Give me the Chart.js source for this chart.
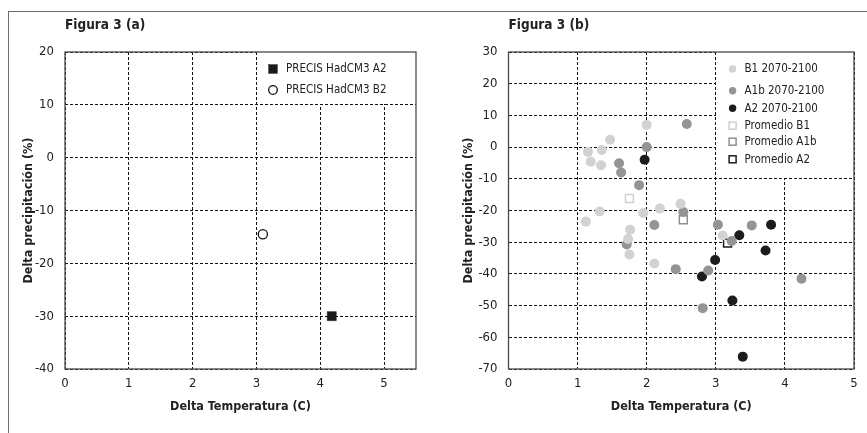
<!DOCTYPE html>
<html><head><meta charset="utf-8">
<script src="https://cdn.jsdelivr.net/npm/chart.js@4"></script>
<style>
html,body{margin:0;padding:0;background:#fff;}
#wrap{position:relative;width:867px;height:433px;overflow:hidden;background:#fff;}
#frame{position:absolute;left:8px;top:11px;width:900px;height:440px;border-top:1px solid #6e6e6e;border-left:1px solid #6e6e6e;}
#ca{position:absolute;left:0;top:0;}
#cb{position:absolute;left:440px;top:0;}
</style></head><body>
<div id="wrap"><div id="frame"></div>
<canvas id="ca" width="440" height="433"></canvas>
<canvas id="cb" width="427" height="433"></canvas>
</div>
<script>
// ---------- text ----------
const panelATitle = 'Figura 3 (a)';
const panelBTitle = 'Figura 3 (b)';
const xAxisTitle = 'Delta Temperatura (C)';
const yAxisTitle = 'Delta precipitación (%)';

// ---------- panel (a) ----------
const panelALabels = ['PRECIS HadCM3 A2', 'PRECIS HadCM3 B2'];
const precisA2Temp = [4.18];
const precisA2Precip = [-30.0];
const precisB2Temp = [3.10];
const precisB2Precip = [-14.5];
const panelAXRange = [0, 5.5];
const panelAYRange = [-40, 20];

// ---------- panel (b) ----------
const panelBLabels = ['B1 2070-2100', 'A1b 2070-2100', 'A2 2070-2100', 'Promedio B1', 'Promedio A1b', 'Promedio A2'];
const b1Temp   = [2.00, 1.47, 1.15, 1.35, 1.19, 1.34, 2.49, 2.19, 1.95, 1.32, 1.12, 1.76, 1.73, 1.75, 2.11, 3.10];
const b1Precip = [7.0, 2.3, -1.5, -0.9, -4.6, -5.7, -17.9, -19.4, -20.8, -20.3, -23.5, -26.1, -29.0, -33.9, -36.7, -27.9];
const a1bTemp   = [2.58, 2.00, 1.60, 1.63, 1.89, 2.53, 2.11, 1.71, 2.42, 2.81, 2.89, 3.03, 3.52, 3.23, 4.24];
const a1bPrecip = [7.3, 0.0, -5.1, -8.0, -12.0, -20.5, -24.6, -30.7, -38.5, -50.8, -38.9, -24.5, -24.7, -29.6, -41.5];
const a2Temp   = [1.97, 2.80, 3.80, 3.34, 2.99, 3.72, 3.24, 3.39];
const a2Precip = [-4.0, -40.8, -24.5, -27.8, -35.6, -32.6, -48.4, -66.1];
const promB1Temp = [1.75],  promB1Precip = [-16.2];
const promA1bTemp = [2.53], promA1bPrecip = [-22.9];
const promA2Temp = [3.17],  promA2Precip = [-30.3];
const panelBXRange = [0, 5];
const panelBYRange = [-70, 30];

// ---------- fonts ----------
const FONT = "'Liberation Sans Narrow', 'DejaVu Sans Condensed', 'Liberation Sans', sans-serif";
const TEXT = '#222';
const SIZE_TITLE  = 13.5;
const SIZE_AXIS   = 12.5;
const SIZE_TICK   = 13;
const SIZE_LEGEND = 11.5;

const zip = (xs, ys) => xs.map((x, i) => ({x, y: ys[i]}));

function drawMarker(ctx, ds, cx, cy, r) {
  ctx.save();
  ctx.fillStyle = ds.backgroundColor;
  ctx.strokeStyle = ds.borderColor;
  ctx.lineWidth = ds.borderWidth || 0;
  if (ds.pointStyle === 'rect') {
    ctx.fillRect(cx - r, cy - r, 2 * r, 2 * r);
    if (ds.borderWidth) ctx.strokeRect(cx - r, cy - r, 2 * r, 2 * r);
  } else {
    ctx.beginPath(); ctx.arc(cx, cy, r, 0, Math.PI * 2); ctx.fill();
    if (ds.borderWidth) ctx.stroke();
  }
  ctx.restore();
}

const panelDecor = {
  id: 'panelDecor',
  beforeDatasetsDraw(chart, args, opts) {
    const {ctx, chartArea: a, scales: {x, y}} = chart;
    ctx.save();
    const gx = Math.round(x.getPixelForValue(opts.fromX) - 0.5);
    const gy = Math.round(y.getPixelForValue(opts.fromY) - 0.5);
    ctx.fillStyle = '#fff';
    ctx.fillRect(gx + 1, a.top, a.right - gx - 1, gy - a.top);
    ctx.strokeStyle = '#4a4a4a';
    ctx.lineWidth = 1.3;
    ctx.strokeRect(a.left, a.top, a.right - a.left, a.bottom - a.top);
    ctx.font = `${SIZE_LEGEND}px ${FONT}`;
    ctx.textAlign = 'left';
    ctx.textBaseline = 'middle';
    chart.data.datasets.forEach((ds, i) => {
      const cy = a.top + opts.rows[i];
      const r = ds.pointStyle === 'rect' ? opts.rectHalf : opts.circleR;
      drawMarker(ctx, ds, gx + opts.markerDx, cy, r);
      ctx.fillStyle = TEXT;
      ctx.fillText(ds.label, gx + opts.textDx, cy + 0.5);
    });
    ctx.restore();
  }
};

function makeOptions(cfg) {
  const tl = SIZE_TITLE * 1.2;
  return {
    responsive: false,
    animation: false,
    events: [],
    layout: {padding: {left: 17, right: cfg.padRight, top: 11, bottom: 14}},
    plugins: {
      legend: {display: false},
      tooltip: {enabled: false},
      title: {
        display: true, text: cfg.title, align: 'start', fullSize: false, color: TEXT,
        font: {family: FONT, size: SIZE_TITLE, weight: 'bold'},
        padding: {top: 14 - tl / 2, bottom: 41 - (14 + tl / 2)}
      },
      panelDecor: cfg.decor
    },
    scales: {
      x: {
        type: 'linear', min: cfg.xRange[0], max: cfg.xRange[1],
        afterFit: s => { s.height = 50; },
        border: {display: false, dash: [3, 2]},
        grid: {color: '#111', lineWidth: 1, drawTicks: false},
        ticks: {stepSize: 1, includeBounds: false, padding: 7, color: TEXT, font: {family: FONT, size: SIZE_TICK}},
        title: {display: true, text: xAxisTitle, color: TEXT, font: {family: FONT, size: SIZE_AXIS, weight: 'bold'},
                padding: {top: 4, bottom: 11.8 - SIZE_AXIS * 0.6}}
      },
      y: {
        type: 'linear', min: cfg.yRange[0], max: cfg.yRange[1],
        afterFit: s => { s.width = cfg.yWidth; },
        border: {display: false, dash: [3, 2]},
        grid: {color: '#111', lineWidth: 1, drawTicks: false},
        ticks: {stepSize: 10, padding: 11, color: TEXT, font: {family: FONT, size: SIZE_TICK}},
        title: {display: true, text: yAxisTitle, color: TEXT, font: {family: FONT, size: SIZE_AXIS, weight: 'bold'},
                padding: {top: 11.8 - SIZE_AXIS * 0.6, bottom: 4}}
      }
    }
  };
}

new Chart(document.getElementById('ca'), {
  type: 'scatter',
  data: {
    datasets: [
      {label: panelALabels[0], data: zip(precisA2Temp, precisA2Precip), pointStyle: 'rect', pointRadius: 6.4,
       backgroundColor: '#1a1a1a', borderColor: '#1a1a1a', borderWidth: 0.5},
      {label: panelALabels[1], data: zip(precisB2Temp, precisB2Precip), pointStyle: 'circle', pointRadius: 4.6,
       backgroundColor: '#ffffff', borderColor: '#111111', borderWidth: 1.3}
    ]
  },
  options: makeOptions({
    title: panelATitle, padRight: 24, yWidth: 48, xRange: panelAXRange, yRange: panelAYRange,
    decor: {fromX: 3, fromY: 10, markerDx: 17, textDx: 30, rows: [17, 38], rectHalf: 4.3, circleR: 4.3}
  }),
  plugins: [panelDecor]
});

new Chart(document.getElementById('cb'), {
  type: 'scatter',
  data: {
    datasets: [
      {label: panelBLabels[0], data: zip(b1Temp, b1Precip), pointStyle: 'circle', pointRadius: 5,
       backgroundColor: '#d2d2d2', borderColor: '#d2d2d2', borderWidth: 0},
      {label: panelBLabels[1], data: zip(a1bTemp, a1bPrecip), pointStyle: 'circle', pointRadius: 5,
       backgroundColor: '#949494', borderColor: '#949494', borderWidth: 0},
      {label: panelBLabels[2], data: zip(a2Temp, a2Precip), pointStyle: 'circle', pointRadius: 5,
       backgroundColor: '#1c1c1c', borderColor: '#1c1c1c', borderWidth: 0},
      {label: panelBLabels[3], data: zip(promB1Temp, promB1Precip), pointStyle: 'rect', pointRadius: 5.6,
       backgroundColor: '#ffffff', borderColor: '#cfcfcf', borderWidth: 1.5},
      {label: panelBLabels[4], data: zip(promA1bTemp, promA1bPrecip), pointStyle: 'rect', pointRadius: 5.6,
       backgroundColor: '#ffffff', borderColor: '#8f8f8f', borderWidth: 1.5},
      {label: panelBLabels[5], data: zip(promA2Temp, promA2Precip), pointStyle: 'rect', pointRadius: 5.6,
       backgroundColor: '#ffffff', borderColor: '#1c1c1c', borderWidth: 1.5}
    ]
  },
  options: makeOptions({
    title: panelBTitle, padRight: 13, yWidth: 51.5, xRange: panelBXRange, yRange: panelBYRange,
    decor: {fromX: 3, fromY: -10, markerDx: 17.6, textDx: 29.5, rows: [17, 38.7, 56.3, 73.7, 89.7, 107.3], rectHalf: 3.5, circleR: 3.7}
  }),
  plugins: [panelDecor]
});
</script>
</body></html>
